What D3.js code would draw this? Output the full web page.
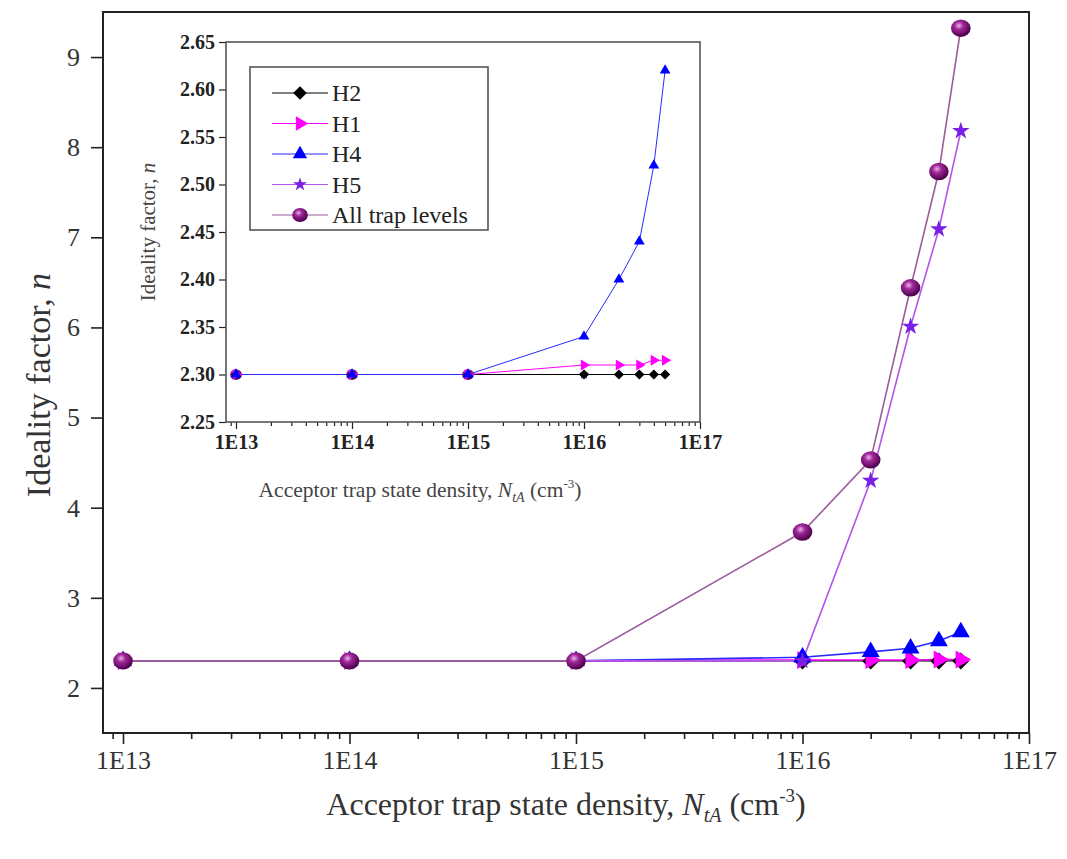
<!DOCTYPE html>
<html>
<head>
<meta charset="utf-8">
<script src="https://cdn.jsdelivr.net/npm/d3@7/dist/d3.min.js"></script>
<style>
  body { margin: 0; background: #fff; }
  svg { display: block; font-family: "Liberation Serif", "Times New Roman", serif; }
</style>
</head>
<body>
<div id="chart"></div>
<script>
// acceptor trap state density (cm^-3)
const densities = [1e13, 1e14, 1e15, 1e16, 2e16, 3e16, 4e16, 5e16];

// ideality factor n for each trap level
const h2Values  = [2.30, 2.30, 2.30, 2.30, 2.30, 2.30, 2.30, 2.30];
const h1Values  = [2.30, 2.30, 2.30, 2.31, 2.31, 2.31, 2.315, 2.315];
const h4Values  = [2.30, 2.30, 2.30, 2.34, 2.40, 2.44, 2.52, 2.62];
const h5Values  = [2.30, 2.30, 2.30, 2.30, 4.30, 6.01, 7.09, 8.18];
const allValues = [2.30, 2.30, 2.30, 3.73, 4.53, 6.44, 7.73, 9.32];

const seriesNames = ["H2", "H1", "H4", "H5", "All trap levels"];
const xTickValues = [1e13, 1e14, 1e15, 1e16, 1e17];
const xTickLabels = ["1E13", "1E14", "1E15", "1E16", "1E17"];
const mainYTicks = [2, 3, 4, 5, 6, 7, 8, 9];
const insetYTicks = [2.25, 2.30, 2.35, 2.40, 2.45, 2.50, 2.55, 2.60, 2.65];

const CHART = {
    width: 1067,
    height: 859,
    main: {left: 103, top: 12, right: 1029, bottom: 733},
    inset: {left: 226, top: 42, right: 700, bottom: 422}
};

// style per series, built from the named arrays above
const SERIES = [
    {name: seriesNames[0], values: h2Values,  marker: "diamond",  fill: "#000000", line: "#000000"},
    {name: seriesNames[1], values: h1Values,  marker: "triRight", fill: "#ff00ff", line: "#ff00ff"},
    {name: seriesNames[2], values: h4Values,  marker: "triUp",    fill: "#0000ff", line: "#2a2aff"},
    {name: seriesNames[3], values: h5Values,  marker: "star",     fill: "#7a1fe6", line: "#b456e8"},
    {name: seriesNames[4], values: allValues, marker: "sphere",   fill: "url(#sphereGrad)", line: "#9c5c9c"}
];

const svg = d3.select("#chart").append("svg")
    .attr("width", CHART.width)
    .attr("height", CHART.height);

svg.append("rect").attr("width", CHART.width).attr("height", CHART.height).attr("fill", "#fff");

// gradient to fake the shaded ball marker
const grad = svg.append("defs").append("radialGradient")
    .attr("id", "sphereGrad")
    .attr("cx", "40%").attr("cy", "35%").attr("r", "65%");
grad.append("stop").attr("offset", "0%").attr("stop-color", "#e8b4e8");
grad.append("stop").attr("offset", "35%").attr("stop-color", "#a0289a");
grad.append("stop").attr("offset", "100%").attr("stop-color", "#4a0048");

//draws one marker symbol centred on cx, cy
function drawMarker(g, kind, cx, cy, k, fill){
    if(kind === "sphere"){
        return g.append("ellipse")
            .attr("cx", cx).attr("cy", cy)
            .attr("rx", 9.8 * k).attr("ry", 8.7 * k)
            .attr("fill", fill);
    }
    let type = d3.symbolTriangle, size = 140, rot = 0;
    if(kind === "diamond"){ type = d3.symbolSquare; size = 144; rot = 45; }
    if(kind === "triRight"){ rot = 90; }
    if(kind === "star"){ type = d3.symbolStar; size = 95; }
    return g.append("path")
        .attr("d", d3.symbol().type(type).size(size * k * k)())
        .attr("transform", `translate(${cx},${cy}) rotate(${rot})`)
        .attr("fill", fill);
}

//minor tick positions 2..9 x 10^d inside the domain
function minorTicks(domain){
    const out = [];
    for(let d = 12; d < 17; d++){
        for(let m = 2; m <= 9; m++){
            const v = m * Math.pow(10, d);
            if(v >= domain[0] && v <= domain[1]) out.push(v);
        }
    }
    return out;
}

function styleAxis(g, size, color, weight){
    g.select(".domain").remove();
    g.selectAll("line").attr("stroke", "#222").attr("stroke-width", 1.6);
    g.selectAll("text")
        .attr("font-family", "Liberation Serif, Times New Roman, serif")
        .attr("font-size", size)
        .attr("font-weight", weight)
        .attr("fill", color);
}

/* ---------- main plot ---------- */
const M = CHART.main;
const xDomain = [8.16e12, 1e17];
const x = d3.scaleLog().domain(xDomain).range([M.left, M.right]);
const y = d3.scaleLinear().domain([1.5, 9.5]).range([M.bottom, M.top]);

const xAxisMain = svg.append("g")
    .attr("transform", `translate(0,${M.bottom})`)
    .call(d3.axisBottom(x).tickValues(xTickValues)
        .tickFormat((d, i) => xTickLabels[i]).tickSize(11).tickPadding(7));
styleAxis(xAxisMain, 26, "#333", "normal");

const xMinorMain = svg.append("g")
    .attr("transform", `translate(0,${M.bottom})`)
    .call(d3.axisBottom(x).tickValues(minorTicks(xDomain)).tickFormat("").tickSize(6));
styleAxis(xMinorMain, 26, "#333", "normal");

const yAxisMain = svg.append("g")
    .attr("transform", `translate(${M.left},0)`)
    .call(d3.axisLeft(y).tickValues(mainYTicks).tickSize(12).tickPadding(11));
styleAxis(yAxisMain, 26, "#333", "normal");

svg.append("rect")
    .attr("x", M.left).attr("y", M.top)
    .attr("width", M.right - M.left).attr("height", M.bottom - M.top)
    .attr("fill", "none").attr("stroke", "#222").attr("stroke-width", 2);

const mainLine = d3.line().x(d => x(d.x)).y(d => y(d.y));
const mainG = svg.append("g");

SERIES.forEach(s => {
    const pts = densities.map((d, i) => ({x: d, y: s.values[i]}));
    mainG.append("path")
        .datum(pts)
        .attr("d", mainLine)
        .attr("fill", "none")
        .attr("stroke", s.line)
        .attr("stroke-width", s.name === "H2" ? 1.2 : 1.6);
});
SERIES.forEach(s => {
    densities.forEach((d, i) => drawMarker(mainG, s.marker, x(d), y(s.values[i]), 1, s.fill));
});

// axis titles
const xTitle = svg.append("text")
    .attr("x", 566).attr("y", 815)
    .attr("text-anchor", "middle")
    .attr("font-size", 32).attr("fill", "#333");
xTitle.append("tspan").text("Acceptor trap state density, ");
xTitle.append("tspan").attr("font-style", "italic").text("N");
xTitle.append("tspan").attr("font-style", "italic").attr("font-size", 20).attr("dy", 7).text("tA");
xTitle.append("tspan").attr("dy", -7).text(" (cm");
xTitle.append("tspan").attr("font-size", 19).attr("dy", -13).text("-3");
xTitle.append("tspan").attr("dy", 13).text(")");

const yTitle = svg.append("text")
    .attr("transform", "translate(50,385) rotate(-90)")
    .attr("text-anchor", "middle")
    .attr("font-size", 34).attr("fill", "#333");
yTitle.append("tspan").text("Ideality factor, ");
yTitle.append("tspan").attr("font-style", "italic").text("n");

/* ---------- inset ---------- */
const I = CHART.inset;
const xInsetDomain = [8.2e12, 1e17];
const xi = d3.scaleLog().domain(xInsetDomain).range([I.left, I.right]);
const yi = d3.scaleLinear().domain([2.25, 2.65]).range([I.bottom, I.top]);

const xAxisInset = svg.append("g")
    .attr("transform", `translate(0,${I.bottom})`)
    .call(d3.axisBottom(xi).tickValues(xTickValues)
        .tickFormat((d, i) => xTickLabels[i]).tickSize(7).tickPadding(6));
styleAxis(xAxisInset, 20, "#222", "bold");

const xMinorInset = svg.append("g")
    .attr("transform", `translate(0,${I.bottom})`)
    .call(d3.axisBottom(xi).tickValues(minorTicks(xInsetDomain)).tickFormat("").tickSize(4));
styleAxis(xMinorInset, 20, "#222", "bold");

const yAxisInset = svg.append("g")
    .attr("transform", `translate(${I.left},0)`)
    .call(d3.axisLeft(yi).tickValues(insetYTicks)
        .tickFormat(d3.format(".2f")).tickSize(7).tickPadding(4));
styleAxis(yAxisInset, 20, "#222", "bold");
xAxisInset.selectAll("line").attr("stroke-width", 1.2);
xMinorInset.selectAll("line").attr("stroke-width", 1.2);
yAxisInset.selectAll("line").attr("stroke-width", 1.2);

svg.append("rect")
    .attr("x", I.left).attr("y", I.top)
    .attr("width", I.right - I.left).attr("height", I.bottom - I.top)
    .attr("fill", "none").attr("stroke", "#555").attr("stroke-width", 1.6);

const insetLine = d3.line().x(d => xi(d.x)).y(d => yi(d.y));
const insetG = svg.append("g");
// background series first so H2/H1/H4 stay on top, only points inside the y range
const insetOrder = [SERIES[4], SERIES[3], SERIES[0], SERIES[1], SERIES[2]];
insetOrder.forEach(s => {
    const pts = densities.map((d, i) => ({x: d, y: s.values[i]}))
        .filter(p => p.y >= 2.25 && p.y <= 2.65);
    insetG.append("path")
        .datum(pts)
        .attr("d", insetLine)
        .attr("fill", "none")
        .attr("stroke", s.line)
        .attr("stroke-width", 1);
});
insetOrder.forEach(s => {
    densities.forEach((d, i) => {
        const v = s.values[i];
        if(v < 2.25 || v > 2.65) return;
        drawMarker(insetG, s.marker, xi(d), yi(v), 0.6, s.fill);
    });
});

const xiTitle = svg.append("text")
    .attr("x", 420).attr("y", 497)
    .attr("text-anchor", "middle")
    .attr("font-size", 21.5).attr("fill", "#444");
xiTitle.append("tspan").text("Acceptor trap state density, ");
xiTitle.append("tspan").attr("font-style", "italic").text("N");
xiTitle.append("tspan").attr("font-style", "italic").attr("font-size", 14).attr("dy", 5).text("tA");
xiTitle.append("tspan").attr("dy", -5).text(" (cm");
xiTitle.append("tspan").attr("font-size", 13).attr("dy", -9).text("-3");
xiTitle.append("tspan").attr("dy", 9).text(")");

const yiTitle = svg.append("text")
    .attr("transform", "translate(155,232) rotate(-90)")
    .attr("text-anchor", "middle")
    .attr("font-size", 21).attr("fill", "#444");
yiTitle.append("tspan").text("Ideality factor, ");
yiTitle.append("tspan").attr("font-style", "italic").text("n");

/* ---------- legend ---------- */
const legend = svg.append("g");
legend.append("rect")
    .attr("x", 250).attr("y", 67)
    .attr("width", 238).attr("height", 163)
    .attr("fill", "#fff").attr("stroke", "#555").attr("stroke-width", 1.6);

SERIES.forEach((s, i) => {
    const ly = 93 + i * 30.5;
    legend.append("line")
        .attr("x1", 272).attr("x2", 328)
        .attr("y1", ly).attr("y2", ly)
        .attr("stroke", s.line).attr("stroke-width", 1.2);
    drawMarker(legend, s.marker, 300, ly, 0.8, s.fill);
    legend.append("text")
        .attr("x", 332).attr("y", ly + 8)
        .attr("font-size", 24).attr("fill", "#222")
        .text(s.name);
});
</script>
</body>
</html>
